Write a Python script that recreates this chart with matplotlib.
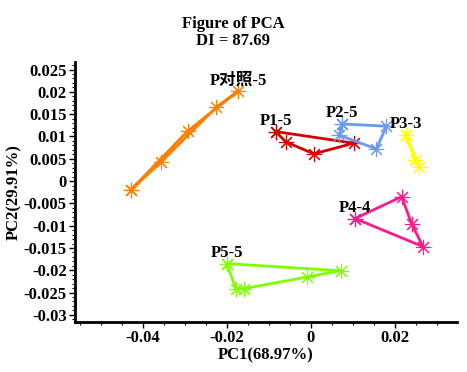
import matplotlib
matplotlib.use("Agg")
import matplotlib.pyplot as plt
from matplotlib.ticker import FixedLocator, MultipleLocator

plt.rcParams['font.family'] = ['Liberation Serif', 'Noto Sans CJK SC']
plt.rcParams['font.weight'] = 'bold'

# ---- datos ----
grupos = ["P对照-5", "P1-5", "P2-5", "P3-3", "P4-4", "P5-5"]
colores = ["#FF8000", "#D40000", "#6A9AF0", "#FFFF00", "#FF1A8C", "#80FF00"]

# contornos de cada grupo (cerrados)
x_ctrl = [-0.0429, -0.0294, -0.0173, -0.0226, -0.0358, -0.0429]
y_ctrl = [-0.0020, 0.0112, 0.0202, 0.0165, 0.0042, -0.0020]
x_p1 = [-0.0084, 0.0102, 0.0007, -0.0060, -0.0084]
y_p1 = [0.0111, 0.0085, 0.0061, 0.0088, 0.0111]
x_p2 = [0.0075, 0.0180, 0.0156, 0.0067, 0.0075]
y_p2 = [0.0128, 0.0123, 0.0072, 0.0103, 0.0128]
x_p3 = [0.0226, 0.0258, 0.0248, 0.0226]
y_p3 = [0.0103, 0.0032, 0.0047, 0.0103]
x_p4 = [0.0105, 0.0216, 0.0240, 0.0267, 0.0105]
y_p4 = [-0.0084, -0.0035, -0.0096, -0.0147, -0.0084]
x_p5 = [-0.0201, 0.0071, -0.0009, -0.0160, -0.0179, -0.0201]
y_p5 = [-0.0185, -0.0201, -0.0215, -0.0241, -0.0241, -0.0185]

# punto donde va la etiqueta de cada grupo
lab_x = [-0.0173, -0.0084, 0.0075, 0.0226, 0.0105, -0.0201]
lab_y = [0.0202, 0.0111, 0.0128, 0.0103, -0.0084, -0.0185]

xticks = [-0.04, -0.02, 0, 0.02]
xticklabels = ["-0.04", "-0.02", "0", "0.02"]
yticks = [0.025, 0.02, 0.015, 0.01, 0.005, 0, -0.005, -0.01, -0.015, -0.02, -0.025, -0.03]
yticklabels = ["0.025", "0.02", "0.015", "0.01", "0.005", "0", "-0.005", "-0.01",
               "-0.015", "-0.02", "-0.025", "-0.03"]

titulo = "Figure of PCA\nDI = 87.69"
xlabel = "PC1(68.97%)"
ylabel = "PC2(29.91%)"

# ---- figura ----
fig = plt.figure(figsize=(4.67, 3.72), dpi=100)
ax = fig.add_axes([0.1606, 0.1344, 0.818, 0.699])

series = [(x_ctrl, y_ctrl), (x_p1, y_p1), (x_p2, y_p2),
          (x_p3, y_p3), (x_p4, y_p4), (x_p5, y_p5)]
for (xs, ys), c in zip(series, colores):
    ax.plot(xs, ys, color=c, lw=2.0, marker=(8, 2, 0), ms=11, mew=0.8,
            solid_joinstyle='miter')

for nombre, lx, ly in zip(grupos, lab_x, lab_y):
    ax.annotate(nombre, (lx, ly), xytext=(0, 2), textcoords='offset points',
                ha='center', va='bottom', fontsize=12, fontweight='bold')

ax.set_xlim(-0.0562, 0.0348)
ax.set_ylim(-0.0316, 0.0267)

ax.xaxis.set_major_locator(FixedLocator(xticks))
ax.set_xticklabels(xticklabels)
ax.xaxis.set_minor_locator(MultipleLocator(0.005))
ax.yaxis.set_major_locator(FixedLocator(yticks))
ax.set_yticklabels(yticklabels)
ax.yaxis.set_minor_locator(MultipleLocator(0.001))

for s in ['top', 'right']:
    ax.spines[s].set_visible(False)
for s in ['left', 'bottom']:
    ax.spines[s].set_linewidth(2)

ax.tick_params(axis='both', which='major', direction='out', length=4, width=1,
               labelsize=12, pad=2)
ax.tick_params(axis='both', which='minor', direction='out', length=2, width=0.8)
for t in ax.get_xticklabels() + ax.get_yticklabels():
    t.set_fontweight('bold')

ax.set_xlabel(xlabel, fontsize=12, fontweight='bold', labelpad=1)
ax.set_ylabel(ylabel, fontsize=12, fontweight='bold', labelpad=1)
fig.text(0.5, 0.958, titulo, ha='center', va='top', fontsize=12,
         fontweight='bold', linespacing=1.15)

fig.savefig("out.png", dpi=100)
